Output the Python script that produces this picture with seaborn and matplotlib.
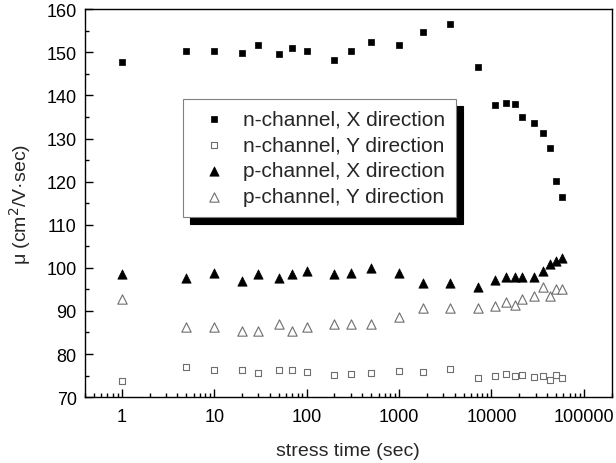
import matplotlib
matplotlib.use("Agg")
import matplotlib.pyplot as plt
import matplotlib.ticker as mticker
import seaborn as sns
import numpy as np
import pandas as pd

times = [1, 5, 10, 20, 30, 50, 70, 100, 200, 300, 500, 1000, 1800, 3600,
         7200, 10800, 14400, 18000, 21600, 28800, 36000, 43200, 50400, 57600]

n_x = [147.8, 150.3, 150.3, 149.9, 151.6, 149.6, 151.0, 150.3, 148.2, 150.3, 152.3, 151.6,
       154.8, 156.5, 146.6, 137.7, 138.2, 137.9, 134.9, 133.6, 131.3, 127.7, 120.1, 116.5]
n_y = [73.8, 76.9, 76.3, 76.3, 75.5, 76.3, 76.3, 75.9, 75.2, 75.3, 75.5, 76.1,
       75.9, 76.6, 74.5, 74.9, 75.3, 74.9, 75.2, 74.7, 74.9, 74.0, 75.2, 74.5]
p_x = [98.5, 97.7, 98.7, 97.0, 98.5, 97.7, 98.5, 99.3, 98.5, 98.7, 99.9, 98.7,
       96.4, 96.4, 95.6, 97.2, 97.9, 97.9, 97.9, 97.9, 99.3, 100.8, 101.5, 102.2]
p_y = [92.7, 86.2, 86.2, 85.4, 85.4, 86.9, 85.4, 86.2, 86.9, 86.9, 86.9, 88.5,
       90.6, 90.6, 90.6, 91.2, 92.1, 91.3, 92.7, 93.5, 95.6, 93.5, 95.0, 95.0]

labels = ["n-channel, X direction", "n-channel, Y direction",
          "p-channel, X direction", "p-channel, Y direction"]

sns.set_style("white")
plt.rcParams['font.family'] = ['Liberation Sans', 'DejaVu Sans']

fig = plt.figure(figsize=(6.16, 4.64), dpi=100)
ax = fig.add_axes([0.138, 0.142, 0.855, 0.836])

sns.scatterplot(x=times, y=n_x, marker='s', s=24, color='black', edgecolor='black',
                linewidth=0.5, label=labels[0], ax=ax, zorder=3)
sns.scatterplot(x=times, y=n_y, marker='s', s=24, facecolor='white', edgecolor='#6e6e6e',
                linewidth=0.8, label=labels[1], ax=ax, zorder=3)
sns.scatterplot(x=times, y=p_x, marker='^', s=45, color='black', edgecolor='black',
                linewidth=0.5, label=labels[2], ax=ax, zorder=3)
sns.scatterplot(x=times, y=p_y, marker='^', s=45, facecolor='white', edgecolor='#6e6e6e',
                linewidth=0.8, label=labels[3], ax=ax, zorder=3)

ax.set_xscale('log')
ax.set_xlim(0.4, 200000)
ax.set_ylim(70, 160)
ax.set_yticks(np.arange(70, 161, 10))
ax.yaxis.set_minor_locator(mticker.MultipleLocator(5))
ax.xaxis.set_major_locator(mticker.FixedLocator([1, 10, 100, 1000, 10000, 100000]))
ax.xaxis.set_major_formatter(mticker.FixedFormatter(['1', '10', '100', '1000', '10000', '100000']))
ax.xaxis.set_minor_locator(mticker.LogLocator(base=10, subs=np.arange(2, 10), numticks=20))
ax.xaxis.set_minor_formatter(mticker.NullFormatter())
ax.tick_params(which='both', direction='in', top=False, right=False, bottom=True, left=True,
               labelsize=13, colors='black')
ax.tick_params(which='major', length=6, width=1)
ax.tick_params(which='minor', length=3, width=1)
ax.tick_params(axis='y', which='major', pad=6)
ax.tick_params(axis='x', which='major', pad=8)
for sp in ax.spines.values():
    sp.set_color('black')
    sp.set_linewidth(1)

ax.set_xlabel('stress time (sec)', fontsize=14, labelpad=12)
ax.set_ylabel('μ (cm$^2$/V·sec)', fontsize=14, labelpad=10)

leg = ax.legend(loc='upper left', bbox_to_anchor=(0.186, 0.768), borderaxespad=0,
                fontsize=15, frameon=True, fancybox=False, edgecolor='#808080', framealpha=1,
                shadow={'ox': 5, 'oy': -5, 'color': 'black', 'alpha': 1},
                markerscale=1.0, handlelength=2.0, handletextpad=0.4, borderpad=0.5,
                labelspacing=0.33)
leg.get_frame().set_linewidth(0.8)

fig.savefig('out.png', dpi=100)
